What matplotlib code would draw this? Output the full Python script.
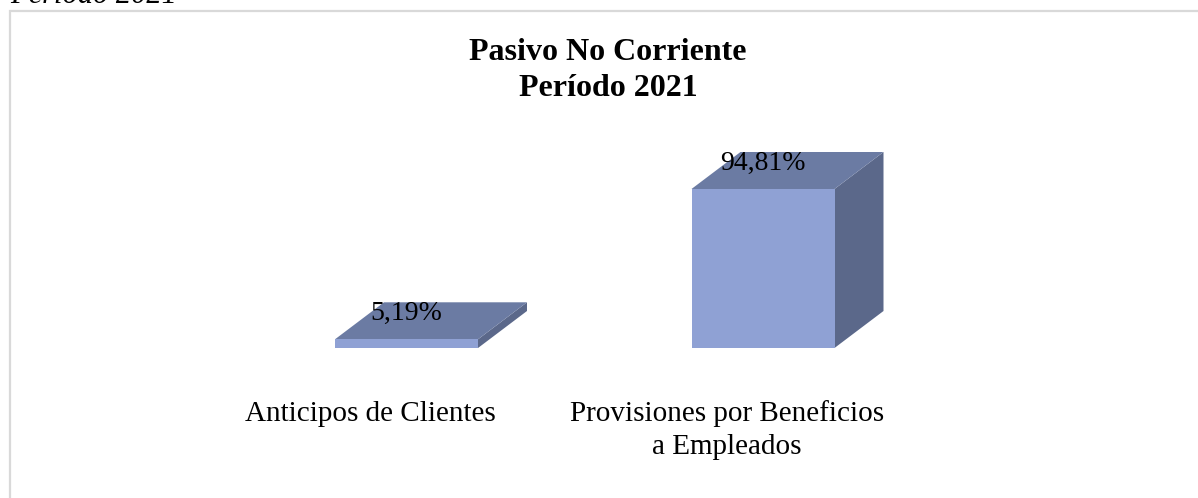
import matplotlib
matplotlib.use('Agg')
import matplotlib.pyplot as plt
from matplotlib.patches import Polygon, Rectangle

## datos
categorias = ['Anticipos de Clientes', 'Provisiones por Beneficios\na Empleados']
valores = [5.19, 94.81]
etiquetas = ['5,19%', '94,81%']
titulo = ['Pasivo No Corriente', 'Período 2021']

W, H = 1198, 498
fig = plt.figure(figsize=(W / 100, H / 100), dpi=100)
plt.rcParams['font.family'] = ['Liberation Serif', 'DejaVu Serif']

# ejes en toda la figura, escala: categoria -> 356.5 px, valor -> 1.677 px
px_cat = 356.5
px_val = 159 / 94.81
x0_px, base_px = 406.5, H - 348
ax = fig.add_axes([0, 0, 1, 1])
ax.set_xlim(-x0_px / px_cat, (W - x0_px) / px_cat)
ax.set_ylim(-base_px / px_val, (H - base_px) / px_val)
ax.axis('off')

# marco del grafico
fig.patches.append(Rectangle((10 / W, -0.1), 1.2, 1.1 - 12 / H + 0.002,
                             transform=fig.transFigure, fill=False,
                             edgecolor='#D9D9D9', linewidth=1.6))

ancho = 143 / px_cat
dx = 49 / px_cat
dy = 37 / px_val
frente = '#8FA1D4'
tapa = '#6B7BA3'
lado = '#5B688A'

for i, v in enumerate(valores):
    x1 = i - ancho / 2
    x2 = i + ancho / 2
    ax.add_patch(Polygon([(x2, 0), (x2 + dx, dy), (x2 + dx, v + dy), (x2, v)],
                         closed=True, facecolor=lado, edgecolor='none'))
    ax.add_patch(Polygon([(x1, v), (x2, v), (x2 + dx, v + dy), (x1 + dx, v + dy)],
                         closed=True, facecolor=tapa, edgecolor='none'))
ax.bar(range(len(valores)), valores, width=ancho, color=frente, edgecolor='none')

for i, v in enumerate(valores):
    ax.annotate(etiquetas[i], (i, v), xytext=(0, 26 * 0.72), textcoords='offset points',
                ha='center', va='center', fontsize=20)

# etiquetas de categoria
for i, c in enumerate(categorias):
    for k, linea in enumerate(c.split('\n')):
        ax.annotate(linea, (i, 0), xytext=(-36 * 0.72, -(73 + 33 * k) * 0.72),
                    textcoords='offset points', ha='center', va='baseline', fontsize=21)

# titulo
fig.text(608 / W, 1 - 60 / H, titulo[0], ha='center', va='baseline',
         fontsize=23, fontweight='bold')
fig.text(608 / W, 1 - 96 / H, titulo[1], ha='center', va='baseline',
         fontsize=23, fontweight='bold')

# texto cortado arriba
fig.text(10 / W, 1 - 3 / H, 'Período 2021', ha='left', va='baseline',
         fontsize=22, style='italic')

fig.savefig('out.png', dpi=100)
